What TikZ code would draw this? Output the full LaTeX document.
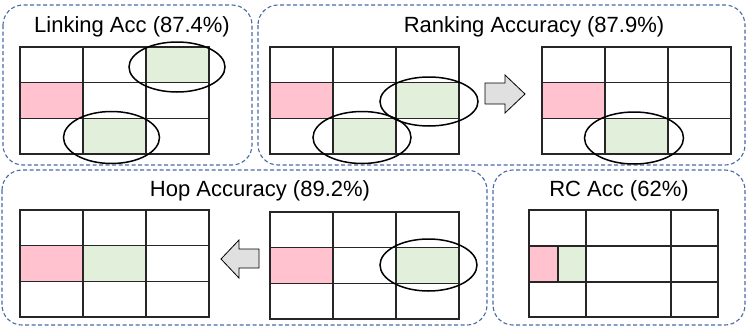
\documentclass[tikz,border=0pt]{standalone}
\usepackage{fontspec}
\setmainfont{Liberation Sans}
\usepackage{xcolor}
\usepackage{tikz}
\usetikzlibrary{shapes.geometric}

\definecolor{panelblue}{HTML}{4A6AA5}
\definecolor{cellpink}{HTML}{FFC2CE}
\definecolor{cellgreen}{HTML}{E2EFDA}
\definecolor{arrowgray}{HTML}{E0E0E0}

\tikzset{
  panel/.style={draw=panelblue, line width=1.1pt, dash pattern=on 4pt off 2.5pt, rounded corners=20pt},
  title/.style={font=\fontsize{22}{26}\selectfont, inner sep=0pt, anchor=base},
  gridline/.style={draw=black!85, line width=1.4pt},
  ring/.style={draw=black, line width=1.5pt},
  blockarrow/.style={draw=black, fill=arrowgray, line width=0.8pt, line join=miter}
}

\newcommand{\cellfill}[5]{\fill[#1] (#2+63*#4,#3+35.7*#5) rectangle ++(63,35.7);}
\newcommand{\cellgrid}[2]{%
  \draw[gridline] (#1,#2) rectangle ++(189,107);
  \foreach \c in {1,2} \draw[gridline] (#1+63*\c,#2) -- ++(0,107);
  \foreach \r in {1,2} \draw[gridline] (#1,#2+35.7*\r) -- ++(189,0);
}

\begin{document}
\begin{tikzpicture}[x=1pt,y=-1pt]
      \useasboundingbox (0,0) rectangle (747,327);
      
      \draw[panel] (3,5) rectangle (252,165);
      \draw[panel] (258,5) rectangle (745,165);
      \draw[panel] (2,170) rectangle (487,325);
      \draw[panel] (493,170) rectangle (745,325);
      
      \node[title] (linking) at (132,32) {Linking Acc (87.4\%)};
      \node[title] (ranking) at (534,32) {Ranking Accuracy (87.9\%)};
      \node[title] (hop) at (260,196) {Hop Accuracy (89.2\%)};
      \node[title] (rc) at (619,196) {RC Acc (62\%)};
      
      \cellfill{cellgreen}{20}{47}{2}{0}
      \cellfill{cellpink}{20}{47}{0}{1}
      \cellfill{cellgreen}{20}{47}{1}{2}
      \cellgrid{20}{47}
      \draw[ring] (177,67) ellipse [x radius=48pt, y radius=25pt];
      \draw[ring] (111.5,137.5) ellipse [x radius=48pt, y radius=26pt];
      
      \cellfill{cellpink}{270}{47}{0}{1}
      \cellfill{cellgreen}{270}{47}{2}{1}
      \cellfill{cellgreen}{270}{47}{1}{2}
      \cellgrid{270}{47}
      \draw[ring] (429,101.5) ellipse [x radius=49pt, y radius=24.5pt];
      \draw[ring] (362,137.5) ellipse [x radius=49pt, y radius=26pt];
      
      \draw[blockarrow] (485,83) -- (505,83) -- (505,75) -- (525,94) -- (505,113) -- (505,104) -- (485,104) -- cycle;
      
      \cellfill{cellpink}{542}{47}{0}{1}
      \cellfill{cellgreen}{542}{47}{1}{2}
      \cellgrid{542}{47}
      \draw[ring] (634,138) ellipse [x radius=49.5pt, y radius=26pt];
      
      \cellfill{cellpink}{20}{210}{0}{1}
      \cellfill{cellgreen}{20}{210}{1}{1}
      \cellgrid{20}{210}
      
      \draw[blockarrow] (259,249) -- (239,249) -- (239,240) -- (221,259) -- (239,278) -- (239,268) -- (259,268) -- cycle;
      
      \cellfill{cellpink}{270}{212}{0}{1}
      \cellfill{cellgreen}{270}{212}{2}{1}
      \cellgrid{270}{212}
      \draw[ring] (428.5,265) ellipse [x radius=48.5pt, y radius=26pt];
      
      \fill[cellpink] (529,246) rectangle (558,282);
      \fill[cellgreen] (558,246) rectangle (586,282);
      \draw[gridline] (529,210) rectangle (718,317);
      \draw[gridline] (529,246) -- (718,246);
      \draw[gridline] (529,282) -- (718,282);
      \draw[gridline] (586,210) -- (586,317);
      \draw[gridline] (671,210) -- (671,317);
      \draw[gridline] (558,246) -- (558,282);
    \end{tikzpicture}
\end{document}
